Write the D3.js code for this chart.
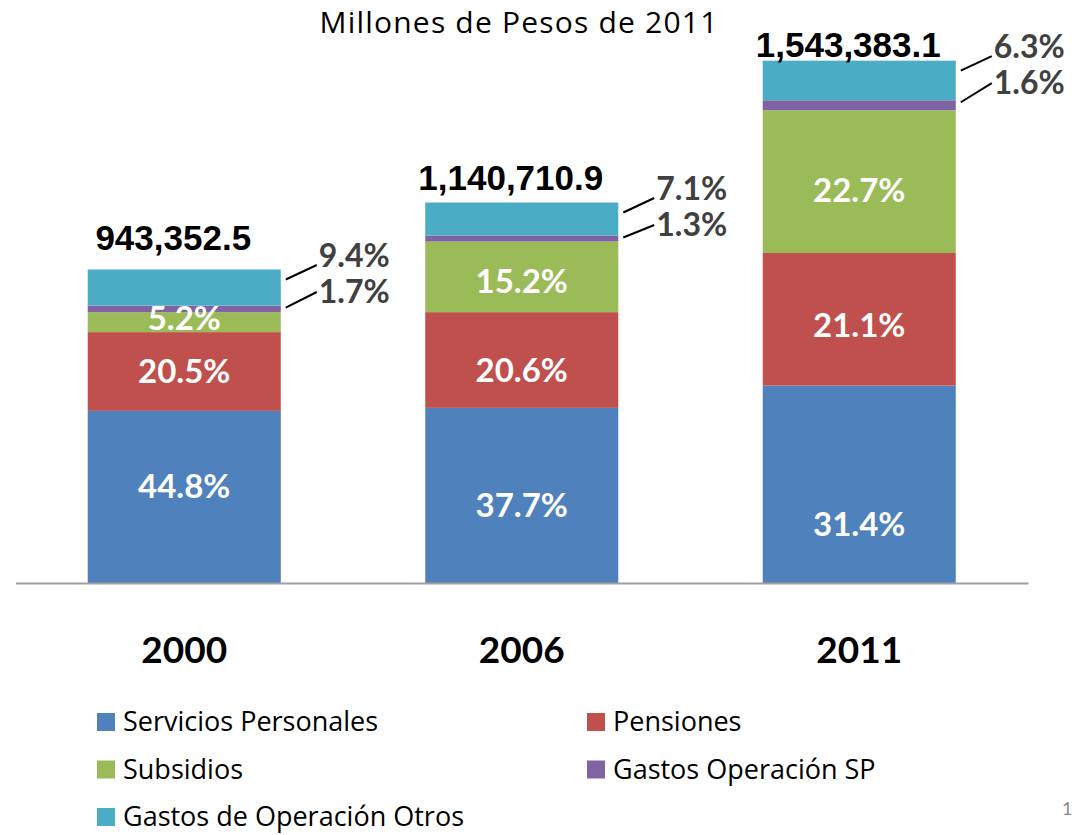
<!DOCTYPE html>
<html>
<head>
<meta charset="utf-8">
<script src="https://cdn.jsdelivr.net/npm/d3@7"></script>
<style>
  body { margin: 0; background: #fff; }
  svg { display: block; }
</style>
</head>
<body>
<div class="graph"></div>
<script>
// data
const years = ["2000", "2006", "2011"];
const totals = [943352.5, 1140710.9, 1543383.1];
const seriesNames = [
  "Servicios Personales",
  "Pensiones",
  "Subsidios",
  "Gastos Operación SP",
  "Gastos de Operación Otros"
];
// percent of total, per year
const servPersonales = [44.8, 37.7, 31.4];
const pensiones = [20.5, 20.6, 21.1];
const subsidios = [5.2, 15.2, 22.7];
const gastosSP = [1.7, 1.3, 1.6];
const gastosOtros = [9.4, 7.1, 6.3];
const pcts = [servPersonales, pensiones, subsidios, gastosSP, gastosOtros];

function main() {
  //setting
  const width = 1076;
  const height = 835;
  const baseY = 583;
  const colors = ["#4F81BD", "#C0504D", "#9BBB59", "#8064A2", "#4BACC6"];
  const font = "Lato, 'Open Sans', sans-serif";
  const textFont = "'Open Sans', Lato, sans-serif";

  // table for the stack: amounts = total * pct
  const table = years.map((y, i) => {
    const row = { year: y, total: totals[i] };
    seriesNames.forEach((s, j) => (row[s] = (totals[i] * pcts[j][i]) / 100));
    return row;
  });
  const stacked = d3.stack().keys(seriesNames)(table);

  //scales
  const xScale = d3
    .scaleBand()
    .domain(years)
    .range([15.5, 1028])
    .paddingInner(0.428)
    .paddingOuter(0.214);
  const yScale = d3
    .scaleLinear()
    .domain([0, 1400000])
    .range([baseY, baseY - 1400000 * 4.0726e-4]);
  const color = d3.scaleOrdinal().domain(seriesNames).range(colors);

  const svg = d3
    .select(".graph")
    .append("svg")
    .attr("width", width)
    .attr("height", height);

  //title
  svg
    .append("text")
    .attr("x", 519)
    .attr("y", 33)
    .attr("text-anchor", "middle")
    .style("font-family", textFont)
    .style("font-size", "30px")
    .style("letter-spacing", "1.2px")
    .style("fill", "#000")
    .text("Millones de Pesos de 2011");

  //bars
  const layers = svg
    .selectAll(".layer")
    .data(stacked)
    .enter()
    .append("g")
    .attr("class", "layer")
    .style("fill", d => color(d.key));
  layers
    .selectAll("rect")
    .data(d => d)
    .enter()
    .append("rect")
    .attr("x", d => xScale(d.data.year))
    .attr("y", d => yScale(d[1]))
    .attr("width", xScale.bandwidth())
    .attr("height", d => yScale(d[0]) - yScale(d[1]));

  //x axis
  const xAxis = d3.axisBottom(xScale).tickSize(0).tickPadding(54);
  const gx = svg
    .append("g")
    .attr("transform", "translate(0," + baseY + ")")
    .call(xAxis);
  gx.select(".domain").attr("stroke", "#A0A0A0").attr("stroke-width", 2);
  gx.selectAll("text")
    .style("font-family", font)
    .style("font-size", "37px")
    .style("font-weight", "bold")
    .style("fill", "#000");

  // inside labels (first three series); manual nudges like the slide
  const insideShift = [
    [-11, 10, 40],
    [0, 10, 6],
    [-4, 4, 8]
  ];
  [0, 1, 2].forEach(j => {
    svg
      .selectAll(".in" + j)
      .data(stacked[j])
      .enter()
      .append("text")
      .attr("x", d => xScale(d.data.year) + xScale.bandwidth() / 2)
      .attr("y", (d, i) => (yScale(d[0]) + yScale(d[1])) / 2 + insideShift[j][i])
      .attr("dy", "0.36em")
      .attr("text-anchor", "middle")
      .style("font-family", font)
      .style("font-size", "33px")
      .style("font-weight", "bold")
      .style("fill", "#fff")
      .text((d, i) => pcts[j][i].toFixed(1) + "%");
  });

  // outside labels with leader lines (small series)
  years.forEach((y, i) => {
    const right = xScale(y) + xScale.bandwidth();
    const top = yScale(stacked[4][i][1]);
    const spTop = yScale(stacked[3][i][1]);
    const b1 = top - 3;
    const b2 = b1 + 36;
    const lines = [
      [top + 10, b1 - 1.5],
      [spTop + 2, b2 - 10.5]
    ];
    lines.forEach(l => {
      svg
        .append("line")
        .attr("x1", right + 5)
        .attr("y1", l[0])
        .attr("x2", right + 36)
        .attr("y2", l[1])
        .attr("stroke", "#000")
        .attr("stroke-width", 2);
    });
    [[gastosOtros[i], b1], [gastosSP[i], b2]].forEach(t => {
      svg
        .append("text")
        .attr("x", right + 38)
        .attr("y", t[1])
        .style("font-family", font)
        .style("font-size", "32px")
        .style("font-weight", "bold")
        .style("fill", "#404040")
        .text(t[0].toFixed(1) + "%");
    });
  });

  // totals
  const totalDy = [-20, -13, -4];
  const fmt = d3.format(",.1f");
  svg
    .selectAll(".total")
    .data(table)
    .enter()
    .append("text")
    .attr("class", "total")
    .attr("x", d => xScale(d.year) + xScale.bandwidth() / 2 - 11)
    .attr("y", (d, i) => yScale(d3.sum(seriesNames, s => d[s])) + totalDy[i])
    .attr("text-anchor", "middle")
    .style("font-family", "'Liberation Sans', Arial, sans-serif")
    .style("font-size", "35px")
    .style("font-weight", "bold")
    .style("fill", "#000")
    .text(d => fmt(d.total));

  // legend
  const legend = svg
    .selectAll(".legend")
    .data(seriesNames)
    .enter()
    .append("g")
    .attr("class", "legend")
    .attr(
      "transform",
      (d, i) => "translate(" + (i % 2 ? 587 : 97) + "," + (731 + Math.floor(i / 2) * 47.5) + ")"
    );
  legend
    .append("rect")
    .attr("x", 0)
    .attr("y", -18)
    .attr("width", 18)
    .attr("height", 18)
    .style("fill", d => color(d));
  legend
    .append("text")
    .attr("x", 26)
    .attr("y", 0)
    .style("font-family", textFont)
    .style("font-size", "27px")
    .style("fill", "#000")
    .text(d => d);

  // slide number peeking in at the edge
  svg
    .append("text")
    .attr("x", 1062)
    .attr("y", 815)
    .style("font-family", font)
    .style("font-size", "18px")
    .style("fill", "#888")
    .text("1");
}

main();
</script>
</body>
</html>
